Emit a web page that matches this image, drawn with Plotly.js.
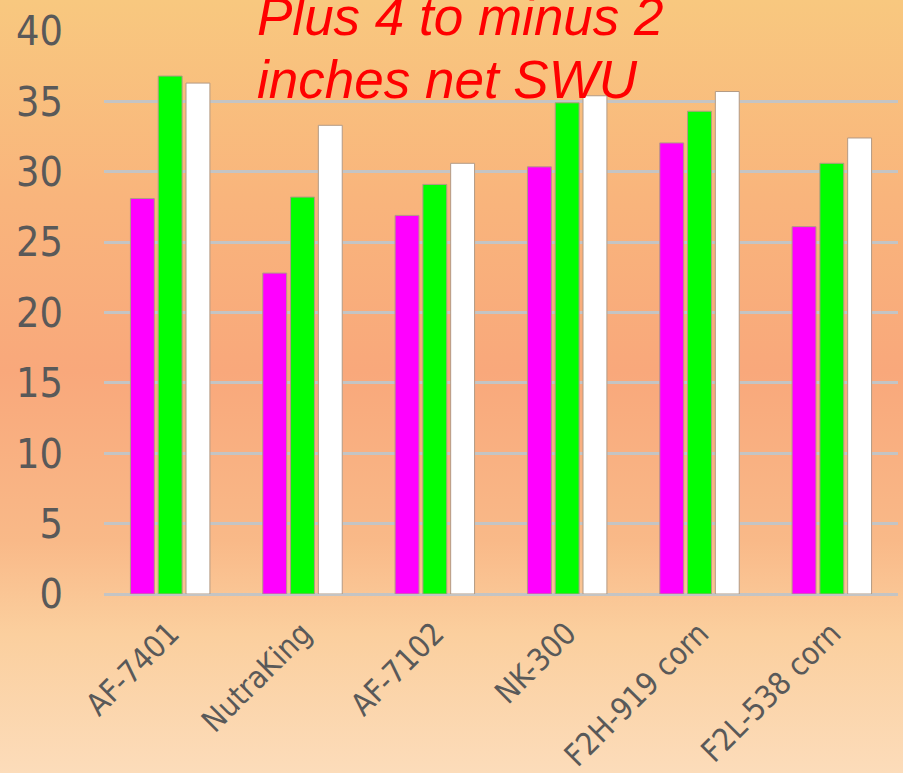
<!DOCTYPE html>
<html>
<head>
<meta charset="utf-8">
<script src="https://cdn.plot.ly/plotly-3.0.1.min.js"></script>
<style>
  html, body { margin: 0; padding: 0; }
  body {
    width: 903px; height: 773px; overflow: hidden;
    background: linear-gradient(to bottom, #f8c87f 0%, #f9b57c 25%, #f9a87b 48%, #f9b988 70%, #fbcf9e 82%, #fcdcba 100%);
  }
  #chart { width: 903px; height: 773px; }
</style>
</head>
<body>
<div id="chart"></div>
<script>
const categories = ["AF-7401", "NutraKing", "AF-7102", "NK-300", "F2H-919 corn", "F2L-538 corn"];
const seriesMagenta = [28.1, 22.8, 26.9, 30.35, 32.05, 26.1];
const seriesGreen   = [36.8, 28.2, 29.1, 34.9, 34.3, 30.6];
const seriesWhite   = [36.3, 33.3, 30.6, 35.4, 35.7, 32.4];
const yTicks = [0, 5, 10, 15, 20, 25, 30, 35, 40];
const titleLines = ["Plus 4 to minus 2", "inches net SWU"];

const outline = { color: '#b39a84', width: 1 };
const traces = [
  { type: 'bar', x: categories, y: seriesMagenta, marker: { color: '#ff00ff', line: outline }, hoverinfo: 'none' },
  { type: 'bar', x: categories, y: seriesGreen,   marker: { color: '#00ff00', line: outline }, hoverinfo: 'none' },
  { type: 'bar', x: categories, y: seriesWhite,   marker: { color: '#ffffff', line: outline }, hoverinfo: 'none' }
];

const titleFont = { family: 'Liberation Sans, Arial, sans-serif', size: 53, color: '#ff0000', style: 'italic' };

const layout = {
  width: 903, height: 773,
  margin: { l: 104, r: 5, t: 31, b: 179 },
  paper_bgcolor: 'rgba(0,0,0,0)',
  plot_bgcolor: 'rgba(0,0,0,0)',
  showlegend: false,
  barmode: 'group',
  bargap: 0.37,
  bargroupgap: 0.14,
  xaxis: {
    tickangle: -45,
    tickfont: { family: 'DejaVu Sans Condensed, DejaVu Sans, sans-serif', size: 31, color: '#595959' },
    showgrid: false, showline: false, ticks: '',
    ticklabelstandoff: 14
  },
  yaxis: {
    range: [0, 40],
    tickvals: yTicks,
    ticktext: yTicks.map(String),
    tickfont: { family: 'DejaVu Sans Condensed, DejaVu Sans, sans-serif', size: 41, color: '#595959' },
    gridcolor: '#c4c4c4', gridwidth: 3,
    zeroline: true, zerolinecolor: '#c4c4c4', zerolinewidth: 3,
    showline: false, ticks: '',
    ticklabelstandoff: 40
  },
  annotations: [
    { text: titleLines[0], xref: 'paper', yref: 'paper', x: 0.19, y: 1.026, xanchor: 'left', yanchor: 'middle', showarrow: false, font: titleFont },
    { text: titleLines[1], xref: 'paper', yref: 'paper', x: 0.19, y: 0.913, xanchor: 'left', yanchor: 'middle', showarrow: false, font: titleFont }
  ]
};

Plotly.newPlot('chart', traces, layout, { staticPlot: true, displayModeBar: false });
</script>
</body>
</html>
